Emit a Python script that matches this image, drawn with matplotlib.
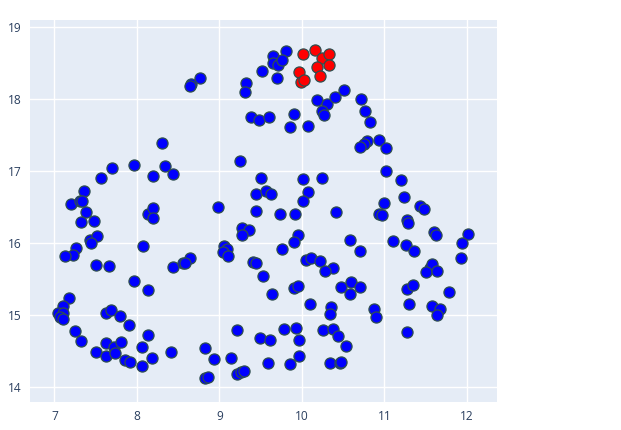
import matplotlib.pyplot as plt

plt.rcParams['font.family'] = ['Open Sans', 'DejaVu Sans']

# blue cluster
blue_x = [8.66, 8.76, 8.64, 9.32, 9.31, 9.52, 9.65, 9.81, 9.65, 9.71, 9.76, 9.70,
          10.18, 10.30, 10.40, 10.51, 9.39, 9.48, 9.60, 9.90, 9.86, 10.08, 10.24, 10.27,
          10.72, 10.76, 10.83, 10.94, 10.79, 10.75, 10.71, 11.02, 8.31, 7.70, 7.56, 7.97,
          8.34, 8.20, 8.44, 7.36, 7.20, 7.31, 7.34, 7.38, 7.32, 7.48, 7.43, 7.52,
          7.44, 7.26, 7.23, 7.13, 8.08, 7.51, 7.66, 8.44, 8.56, 8.65, 8.14, 8.20,
          8.20, 9.25, 9.50, 9.44, 9.57, 9.63, 10.02, 10.24, 10.08, 10.01, 8.99, 9.44,
          9.74, 9.92, 10.41, 9.27, 9.36, 9.28, 9.95, 9.91, 9.06, 9.09, 9.04, 9.11,
          8.58, 9.76, 9.41, 9.45, 10.05, 10.11, 10.22, 10.38, 10.28, 9.53, 11.02, 11.20,
          11.24, 11.00, 10.94, 10.97, 11.43, 11.48, 11.28, 11.29, 11.60, 11.63, 12.01, 11.94,
          11.93, 10.59, 10.70, 11.10, 11.26, 11.36, 11.55, 11.58, 11.51, 11.64, 7.97, 8.14,
          7.18, 7.11, 7.04, 7.11, 7.07, 7.11, 7.63, 7.69, 7.79, 7.90, 7.25, 7.32,
          7.63, 7.72, 7.81, 7.51, 7.63, 7.74, 7.86, 7.92, 8.06, 8.14, 8.18, 8.06,
          8.41, 9.64, 9.91, 9.95, 10.48, 10.10, 10.35, 10.34, 9.21, 9.49, 9.61, 9.79,
          9.93, 9.96, 10.26, 10.38, 10.44, 10.53, 8.83, 8.94, 9.14, 8.83, 8.86, 9.22,
          9.26, 9.30, 9.59, 9.86, 9.97, 10.34, 10.46, 10.48, 10.60, 10.70, 10.58, 11.28,
          11.35, 11.78, 10.87, 10.90, 11.30, 11.58, 11.68, 11.64, 11.28]
blue_y = [18.21, 18.29, 18.19, 18.23, 18.10, 18.39, 18.60, 18.67, 18.50, 18.47, 18.54, 18.29,
          17.99, 17.94, 18.03, 18.13, 17.75, 17.71, 17.75, 17.80, 17.61, 17.63, 17.84, 17.78,
          18.01, 17.83, 17.68, 17.44, 17.42, 17.38, 17.34, 17.32, 17.39, 17.05, 16.91, 17.09,
          17.07, 16.93, 16.96, 16.72, 16.55, 16.59, 16.59, 16.43, 16.30, 16.31, 16.05, 16.10,
          16.01, 15.93, 15.84, 15.82, 15.96, 15.70, 15.68, 15.67, 15.73, 15.79, 16.41, 16.49,
          16.35, 17.14, 16.90, 16.68, 16.73, 16.68, 16.89, 16.91, 16.71, 16.59, 16.51, 16.45,
          16.41, 16.41, 16.44, 16.21, 16.18, 16.12, 16.12, 16.02, 15.96, 15.92, 15.88, 15.82,
          15.72, 15.92, 15.74, 15.72, 15.77, 15.80, 15.76, 15.65, 15.62, 15.54, 17.01, 16.88,
          16.64, 16.56, 16.40, 16.39, 16.52, 16.47, 16.32, 16.28, 16.16, 16.12, 16.13, 16.01,
          15.79, 16.04, 15.89, 16.03, 15.97, 15.89, 15.66, 15.71, 15.60, 15.62, 15.47, 15.35,
          15.24, 15.13, 15.03, 15.03, 14.98, 14.95, 15.03, 15.07, 14.99, 14.86, 14.78, 14.64,
          14.62, 14.56, 14.63, 14.49, 14.43, 14.48, 14.38, 14.35, 14.56, 14.72, 14.40, 14.29,
          14.49, 15.29, 15.38, 15.40, 15.39, 15.15, 15.11, 15.02, 14.79, 14.68, 14.65, 14.81,
          14.83, 14.65, 14.80, 14.81, 14.71, 14.57, 14.55, 14.39, 14.40, 14.13, 14.15, 14.18,
          14.21, 14.23, 14.34, 14.33, 14.43, 14.34, 14.34, 14.35, 15.46, 15.39, 15.29, 15.37,
          15.42, 15.32, 15.09, 14.98, 15.16, 15.13, 15.09, 15.01, 14.77]

# red cluster
red_x = [10.01, 10.16, 10.24, 10.33, 10.33, 10.19, 9.96, 10.22, 9.99, 10.03]
red_y = [18.63, 18.69, 18.57, 18.63, 18.48, 18.45, 18.38, 18.32, 18.24, 18.26]

fig = plt.figure(figsize=(6.21, 4.30), dpi=100)
ax = fig.add_axes([30 / 621, 28 / 430, 467 / 621, 382 / 430])
ax.set_facecolor('#E5ECF6')

ax.scatter(blue_x, blue_y, s=64, color='blue', edgecolors='DarkSlateGrey',
           linewidths=0.9, zorder=3)
ax.scatter(red_x, red_y, s=64, color='red', edgecolors='DarkSlateGrey',
           linewidths=0.9, zorder=3)

ax.set_xlim(6.705, 12.366)
ax.set_ylim(13.796, 19.10)
ax.set_xticks([7, 8, 9, 10, 11, 12])
ax.set_yticks([14, 15, 16, 17, 18, 19])
ax.grid(True, color='white', linewidth=1)
ax.set_axisbelow(True)
ax.tick_params(length=0, labelsize=8.6, colors='#2a3f5f', pad=6)
for s in ax.spines.values():
    s.set_visible(False)

fig.savefig('out.png', dpi=100)
